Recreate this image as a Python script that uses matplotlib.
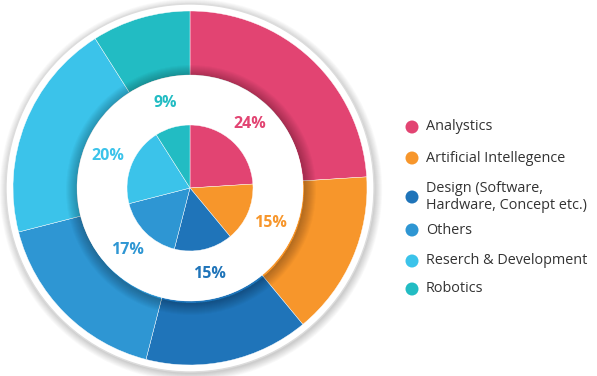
import numpy as np
import matplotlib.pyplot as plt
from matplotlib.patches import Circle, Wedge

labels = ['Analystics', 'Artificial Intellegence', 'Design (Software,\nHardware, Concept etc.)',
          'Others', 'Reserch & Development', 'Robotics']
shares = [24, 15, 15, 17, 20, 9]
colors = ['#E24472', '#F7962B', '#1F74B9', '#2E96D3', '#3BC3EA', '#22BCC3']
legend_y = [127, 158, 197, 230, 261, 289]

W, H = 597, 376
cx, cy = 190, 376 - 188
r_out, r_ring, r_in = 177, 113, 63

fig = plt.figure(figsize=(W / 100, H / 100), dpi=100)
ax = fig.add_axes([0, 0, 1, 1])

# soft drop shadow behind the disc
for k in range(10):
    ax.add_patch(Circle((cx + 1, cy - 2), 184 + k * 0.8, color='black', alpha=0.018, lw=0, zorder=0))
ax.add_patch(Circle((cx, cy), 184, facecolor='white', edgecolor='#dcdcdc', lw=1.0, zorder=1))

# outer ring
ax.pie(shares, colors=colors, radius=r_out, center=(cx, cy), startangle=90, counterclock=False,
       wedgeprops=dict(width=r_out - r_ring, linewidth=0.3, edgecolor='white'), frame=True)

# shadow cast by the white ring on the outer band
for k in range(12):
    ax.add_patch(Wedge((cx + 1, cy - 2), r_ring + 1 + k, 0, 360, width=1 + k,
                       color='black', alpha=0.025, lw=0, zorder=3))
ax.add_patch(Circle((cx, cy), r_ring, facecolor='white', lw=0, zorder=4))

# inner pie
wedges, _ = ax.pie(shares, colors=colors, radius=r_in, center=(cx, cy), startangle=90,
                   counterclock=False, wedgeprops=dict(linewidth=0.3, edgecolor='white'), frame=True)
for w in wedges:
    w.set_zorder(5)

# percentage labels in the white ring
start = 90
for s, c in zip(shares, colors):
    mid = np.radians(start - s * 3.6 / 2)
    start -= s * 3.6
    ax.text(cx + 88 * np.cos(mid), cy + 88 * np.sin(mid), f'{s}%', color=c,
            fontsize=11.5, fontweight='bold', family='Open Sans', ha='center', va='center', zorder=6)

# legend
for lab, c, y in zip(labels, colors, legend_y):
    ax.add_patch(Circle((412, H - y), 6.5, color=c, lw=0))
    ax.text(426, H - y, lab, fontsize=10.4, family='Open Sans', color='#333333',
            va='center', ha='left', linespacing=1.1)

ax.set_xlim(0, W)
ax.set_ylim(0, H)
ax.set_aspect('equal')
ax.axis('off')

plt.savefig('out.png', dpi=100)
